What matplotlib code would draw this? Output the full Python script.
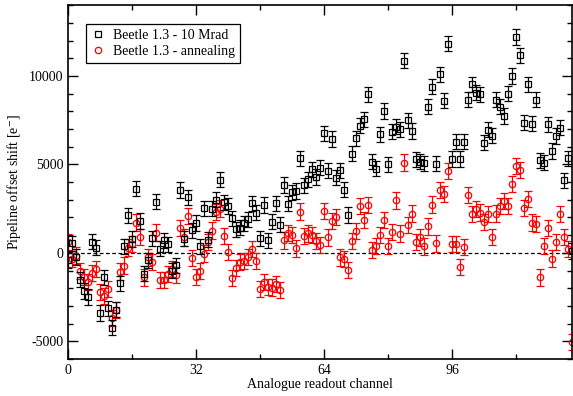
import matplotlib
matplotlib.use("Agg")
import matplotlib.pyplot as plt
from matplotlib.ticker import MultipleLocator
from matplotlib.lines import Line2D
import numpy as np

plt.rcParams['font.family'] = ['Liberation Serif', 'DejaVu Serif']
plt.rcParams['mathtext.fontset'] = 'stix'
plt.rcParams['axes.unicode_minus'] = False

# offset shift per channel after 10 Mrad
irradiated = [
    -400, 530, -230, -1510, -2150, -2500, 640, 300, -3400, -1390,
    -3130, -4220, -3220, -1720, 380, 2120, 780, 3630, 1800, -1170,
    -430, 830, 2890, 240, 720, 490, -1000, -700, 3550, 800,
    3130, 1280, 1690, 380, 2510, 750, 2490, 3000, 4140, 2860,
    2650, 1960, 1340, 1430, 1660, 1890, 2800, 2260, 830, 2700,
    720, 1750, 2810, 1600, 3840, 2770, 3430, 3490, 5350, 3810,
    4160, 4730, 4290, 4820, 6750, 4650, 6440, 4250, 4670, 3560,
    2140, 5610, 6480, 7180, 7550, 8970, 5160, 4760, 6700, 8020,
    5010, 6840, 7120, 6990, 10850, 7500, 6890, 5290, 5160, 5070,
    8250, 9380, 5050, 10090, 8590, 11830, 5310, 6290, 5310, 6290,
    8650, 9530, 9060, 8950, 6230, 6960, 6630, 8650, 8250, 7740,
    9000, 10000, 12200, 11170, 7360, 9530, 7300, 8650, 5240, 5100,
    7260, 5760, 6610, 7080, 4090, 5350, 110,
]

# offset shift per channel after annealing
annealed = [
    600, -350, -150, -1040, -1350, -1630, -1140, -920, -2210, -2430,
    -2050, -3670, -3240, -1060, -720, 300, 500, 1710, 910, -1390,
    -260, -510, 1150, -1540, -1540, -1200, -920, -1240, 1390, 870,
    2090, -300, -1360, -1040, -40, 630, 1260, 2320, 2500, 960,
    60, -1440, -850, -510, -470, -230, 210, -470, -2050, -1650,
    -1940, -1960, -1770, -2110, 700, 1120, 1020, 250, 2330, 960,
    1100, 990, 650, 450, 2370, 870, 1810, 2030, -260, -360,
    -980, 680, 1240, 2640, 1850, 2710, 150, 380, 1000, 1850,
    400, 1190, 2960, 1090, 5100, 1580, 2220, 600, 870, 360,
    1490, 2730, 530, 3540, 3310, 4630, 490, 490, -790, 340,
    3250, 2190, 2470, 2280, 1740, 2180, 910, 2220, 2650, 2940,
    2640, 3880, 4920, 4670, 2520, 3030, 1710, 1620, -1390, 400,
    1390, -320, 630, 2200, 900, 210, -5020,
]

irradiated_err = 430
annealed_err = 460

channels = np.arange(len(irradiated))

fig = plt.figure(figsize=(5.73, 3.96), dpi=100)
ax = fig.add_axes([0.1187, 0.0934, 0.8795, 0.8936])

ax.axhline(0, color='black', linestyle=(0, (3, 2)), linewidth=0.9, zorder=1)

ax.errorbar(channels, irradiated, yerr=irradiated_err, fmt='s', color='black',
            mfc='none', mec='black', ms=4.2, mew=0.9, elinewidth=0.9,
            capsize=3, capthick=0.9, zorder=3)
ax.errorbar(channels, annealed, yerr=annealed_err, fmt='o', color='red',
            mfc='none', mec='red', ms=4.6, mew=0.9, elinewidth=0.9,
            capsize=3, capthick=0.9, zorder=2)

ax.set_xlim(0, 126)
ax.set_ylim(-6000, 14000)
ax.xaxis.set_major_locator(MultipleLocator(32))
ax.xaxis.set_minor_locator(MultipleLocator(16))
ax.yaxis.set_major_locator(MultipleLocator(5000))
ax.yaxis.set_minor_locator(MultipleLocator(1000))
ax.tick_params(which='both', direction='in', top=True, right=True, labelsize=10)
ax.tick_params(which='major', length=7, width=1)
ax.tick_params(which='minor', length=3.5, width=1)
for sp in ax.spines.values():
    sp.set_linewidth(1.2)

ax.set_xlabel('Analogue readout channel', fontsize=10, labelpad=1)
ax.set_ylabel(r'Pipeline offset shift [e$^{-}$]', fontsize=10, labelpad=4)

# legend shows bare markers only
handles = [
    Line2D([], [], linestyle='none', marker='s', ms=4.2, mfc='none',
           mec='black', mew=0.9),
    Line2D([], [], linestyle='none', marker='o', ms=4.6, mfc='none',
           mec='red', mew=0.9),
]
labels = ['Beetle 1.3 - 10 Mrad', 'Beetle 1.3 - annealing']
leg = ax.legend(handles, labels, loc='upper left', bbox_to_anchor=(0.022, 0.965),
                fontsize=10, fancybox=False, edgecolor='black', framealpha=1,
                handlelength=1.0, handletextpad=0.6, borderpad=0.35,
                labelspacing=0.2)
leg.get_frame().set_linewidth(0.9)

fig.savefig('out.png', dpi=100)
